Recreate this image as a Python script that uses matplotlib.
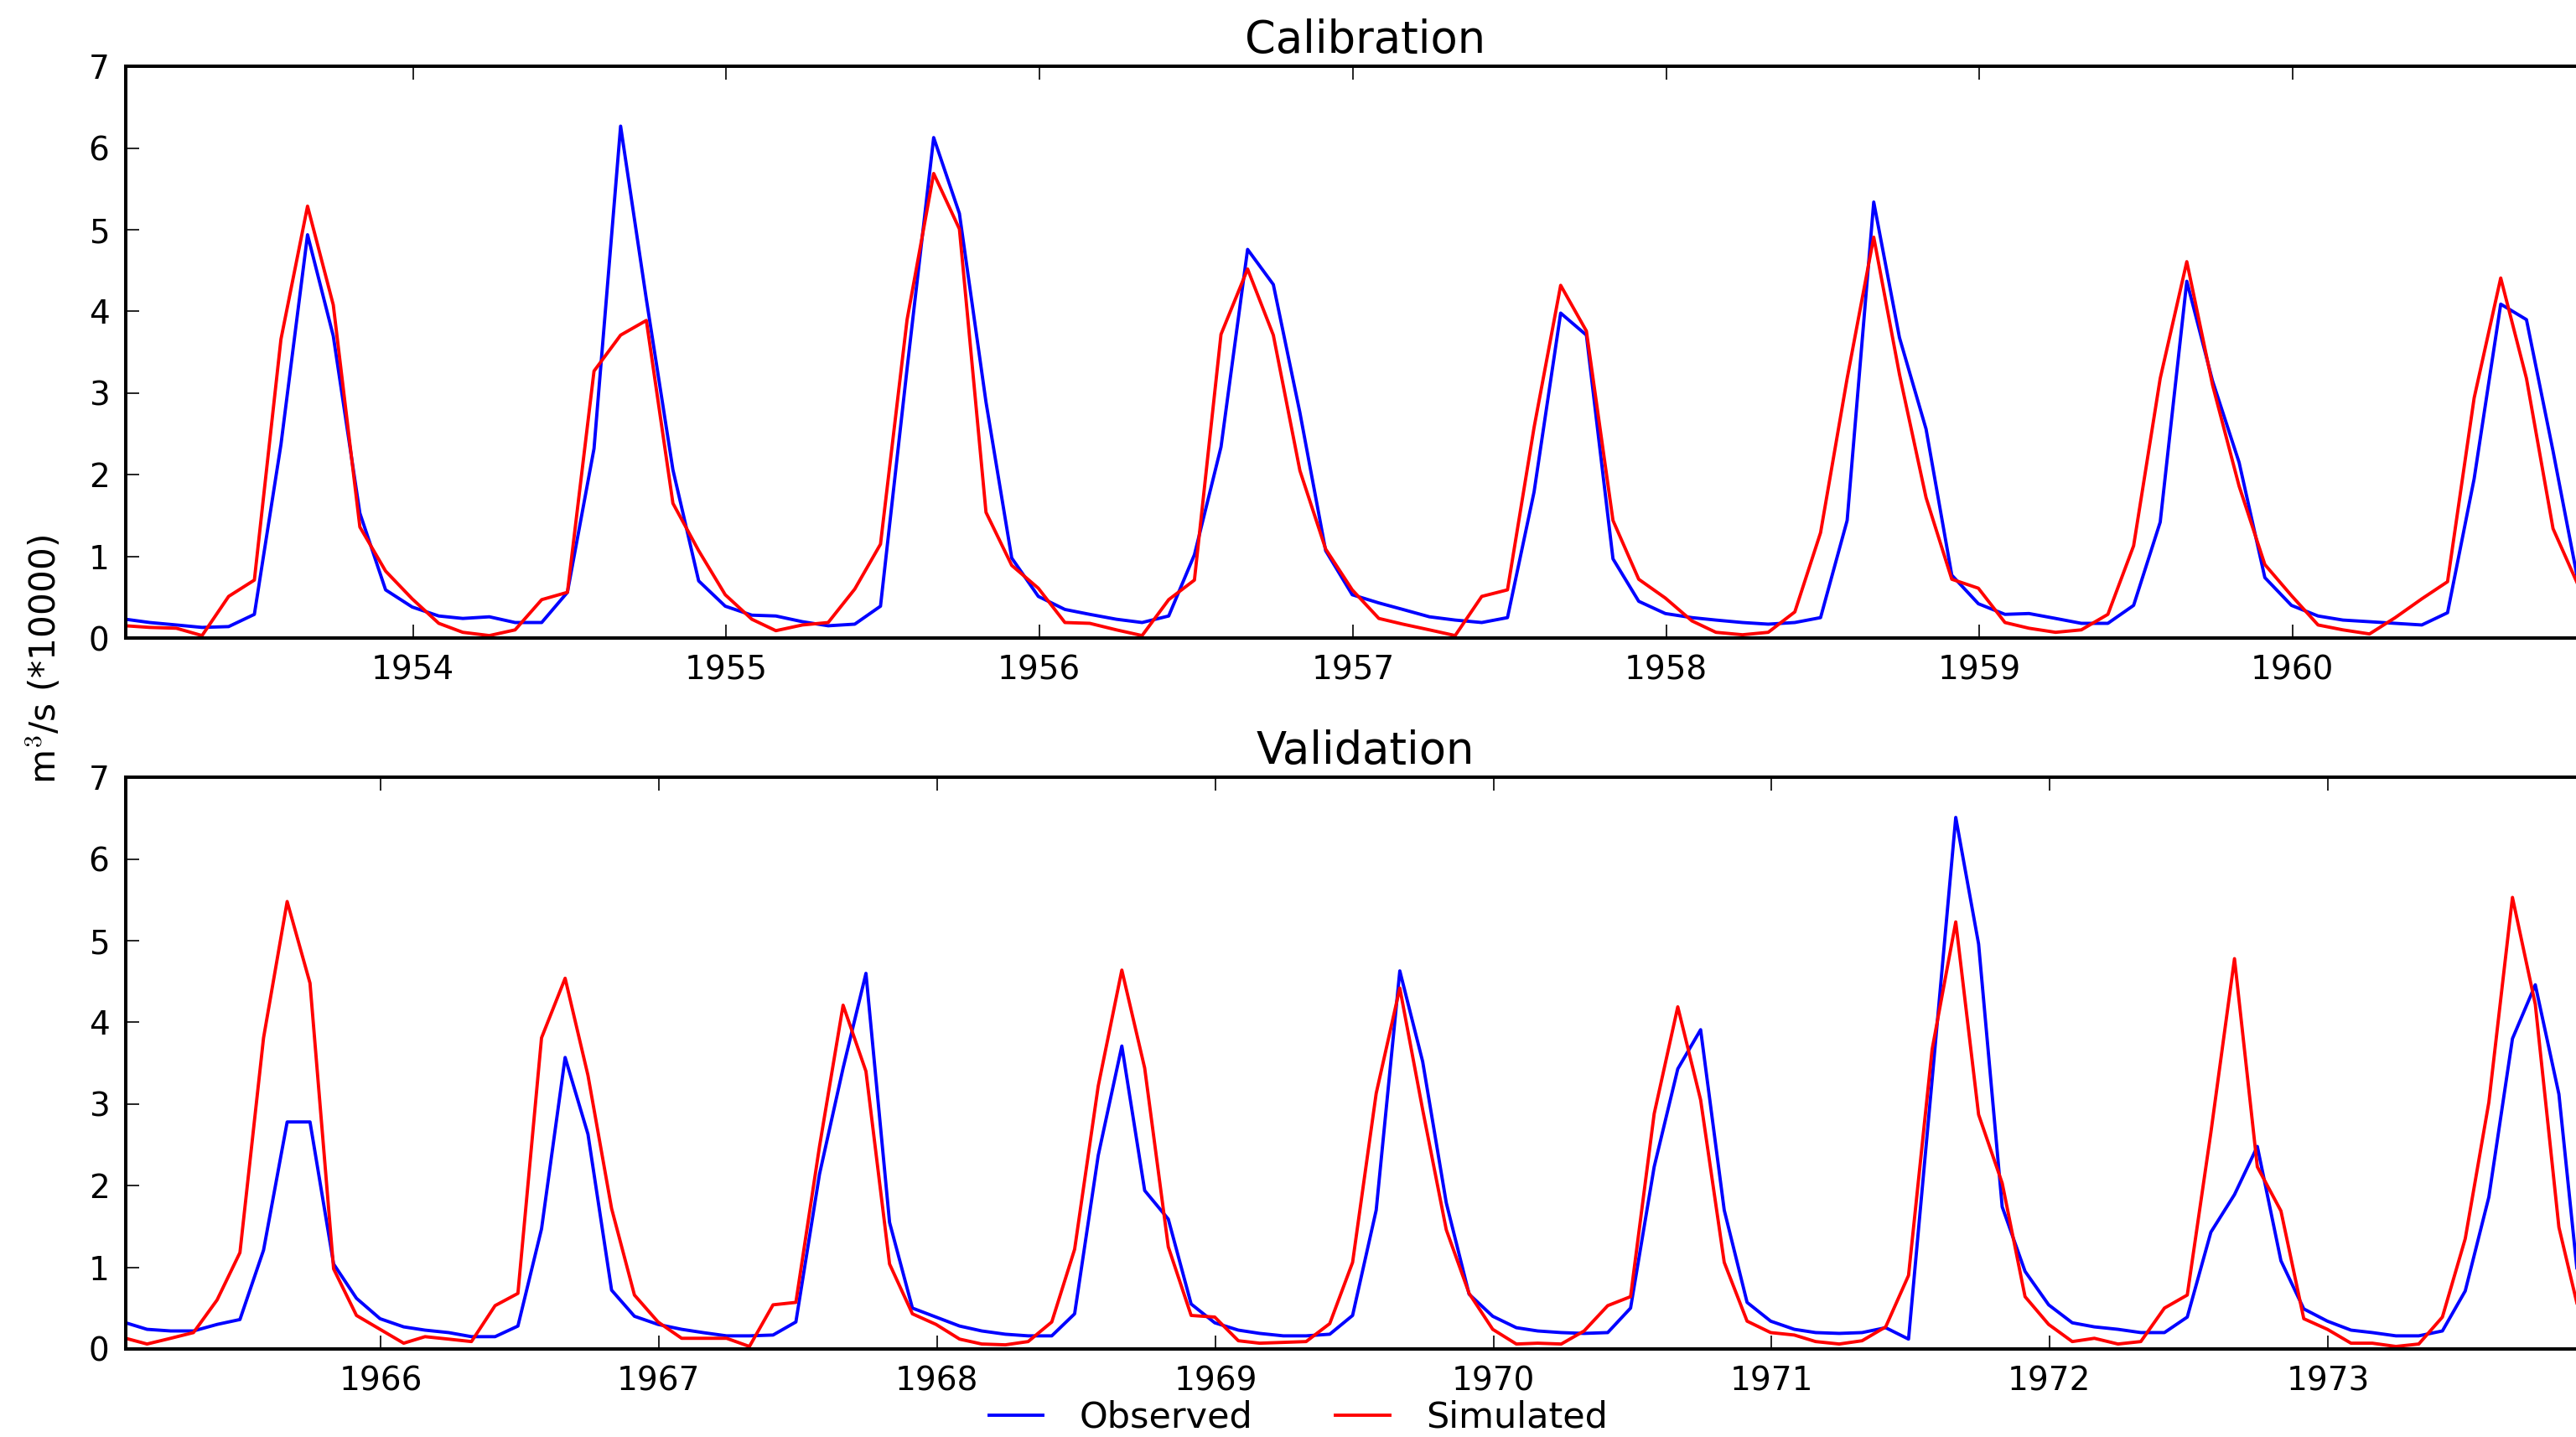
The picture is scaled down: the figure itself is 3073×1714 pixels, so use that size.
import pandas as pd
import matplotlib
matplotlib.use('Agg')
import matplotlib.pyplot as plt
import matplotlib.dates as mdates

# monthly flows, m3/s (*10000)
cal_obs = [0.23, 0.19, 0.16, 0.13, 0.14, 0.29, 2.37, 4.94, 3.70, 1.53, 0.59, 0.38,
           0.27, 0.24, 0.26, 0.19, 0.19, 0.56, 2.32, 6.27, 4.15, 2.06, 0.70, 0.39,
           0.28, 0.27, 0.20, 0.15, 0.17, 0.39, 3.30, 6.13, 5.20, 2.89, 0.98, 0.51,
           0.35, 0.29, 0.23, 0.19, 0.27, 1.02, 2.34, 4.76, 4.33, 2.76, 1.07, 0.53,
           0.43, 0.35, 0.26, 0.22, 0.19, 0.25, 1.79, 3.98, 3.71, 0.97, 0.45, 0.30,
           0.25, 0.22, 0.19, 0.17, 0.19, 0.25, 1.44, 5.34, 3.68, 2.56, 0.77, 0.42,
           0.29, 0.30, 0.24, 0.18, 0.18, 0.40, 1.42, 4.37, 3.15, 2.15, 0.74, 0.40,
           0.27, 0.22, 0.20, 0.18, 0.16, 0.31, 1.95, 4.09, 3.90, 2.29, 0.65, 0.40]
cal_sim = [0.15, 0.13, 0.12, 0.03, 0.51, 0.71, 3.66, 5.29, 4.08, 1.36, 0.82, 0.48,
           0.18, 0.07, 0.03, 0.10, 0.47, 0.56, 3.27, 3.71, 3.89, 1.65, 1.07, 0.53,
           0.23, 0.09, 0.16, 0.19, 0.60, 1.15, 3.90, 5.69, 5.01, 1.54, 0.89, 0.61,
           0.19, 0.18, 0.10, 0.03, 0.47, 0.71, 3.72, 4.52, 3.71, 2.05, 1.09, 0.59,
           0.24, 0.17, 0.10, 0.03, 0.51, 0.59, 2.58, 4.32, 3.76, 1.44, 0.72, 0.49,
           0.21, 0.07, 0.04, 0.07, 0.32, 1.29, 3.18, 4.91, 3.23, 1.72, 0.72, 0.61,
           0.19, 0.12, 0.07, 0.10, 0.29, 1.13, 3.18, 4.61, 3.10, 1.86, 0.90, 0.52,
           0.16, 0.10, 0.05, 0.25, 0.48, 0.69, 2.94, 4.41, 3.18, 1.34, 0.63, 0.35]

val_obs = [0.32, 0.24, 0.22, 0.22, 0.30, 0.36, 1.21, 2.78, 2.78, 1.04, 0.62, 0.37,
           0.27, 0.23, 0.20, 0.15, 0.15, 0.28, 1.47, 3.57, 2.63, 0.72, 0.40, 0.30,
           0.24, 0.20, 0.16, 0.16, 0.17, 0.33, 2.14, 3.44, 4.60, 1.55, 0.50, 0.39,
           0.28, 0.22, 0.18, 0.16, 0.16, 0.43, 2.37, 3.71, 1.94, 1.59, 0.55, 0.32,
           0.23, 0.19, 0.16, 0.16, 0.18, 0.41, 1.70, 4.63, 3.52, 1.79, 0.67, 0.40,
           0.26, 0.22, 0.20, 0.19, 0.20, 0.50, 2.23, 3.43, 3.91, 1.70, 0.57, 0.34,
           0.24, 0.20, 0.19, 0.20, 0.26, 0.12, 3.30, 6.51, 4.96, 1.74, 0.95, 0.54,
           0.32, 0.27, 0.24, 0.20, 0.20, 0.39, 1.43, 1.89, 2.48, 1.08, 0.49, 0.34,
           0.23, 0.20, 0.16, 0.16, 0.22, 0.71, 1.86, 3.80, 4.46, 3.12, 0.41, 0.30]
val_sim = [0.13, 0.06, 0.13, 0.20, 0.60, 1.18, 3.81, 5.48, 4.48, 0.98, 0.41, 0.24,
           0.07, 0.15, 0.12, 0.09, 0.53, 0.68, 3.81, 4.54, 3.35, 1.72, 0.66, 0.33,
           0.13, 0.13, 0.13, 0.03, 0.54, 0.57, 2.48, 4.21, 3.40, 1.04, 0.43, 0.30,
           0.12, 0.06, 0.05, 0.09, 0.33, 1.22, 3.22, 4.64, 3.44, 1.25, 0.41, 0.39,
           0.10, 0.07, 0.08, 0.09, 0.31, 1.06, 3.13, 4.42, 2.93, 1.46, 0.68, 0.24,
           0.06, 0.07, 0.06, 0.22, 0.53, 0.64, 2.88, 4.19, 3.05, 1.06, 0.34, 0.20,
           0.17, 0.09, 0.06, 0.10, 0.27, 0.90, 3.67, 5.23, 2.87, 2.03, 0.64, 0.30,
           0.09, 0.13, 0.06, 0.09, 0.50, 0.66, 2.65, 4.78, 2.23, 1.69, 0.37, 0.24,
           0.07, 0.07, 0.03, 0.06, 0.39, 1.35, 3.02, 5.53, 4.22, 1.49, 0.31, 0.20]

# month-end dates
cal_dates = pd.date_range('1953-02-01', periods=len(cal_obs), freq='MS') - pd.Timedelta(days=1)
val_dates = pd.date_range('1965-02-01', periods=len(val_obs), freq='MS') - pd.Timedelta(days=1)

plt.rcParams['mathtext.fontset'] = 'cm'

fig = plt.figure(figsize=(15.365, 8.57), dpi=200)
ax1 = fig.add_axes([0.0488, 0.556, 0.9626, 0.3977])
ax2 = fig.add_axes([0.0488, 0.0613, 0.9626, 0.3977])

panels = [(ax1, cal_dates, cal_obs, cal_sim, 'Calibration'),
          (ax2, val_dates, val_obs, val_sim, 'Validation')]

for ax, dates, obs, sim, title in panels:
    ax.plot(dates, obs, color='b', lw=1.4, label='Observed')
    ax.plot(dates, sim, color='r', lw=1.4, label='Simulated')
    ax.set_xlim(dates[0], dates[-1])
    ax.set_ylim(0, 7)
    ax.set_title(title, fontsize=19, pad=6)
    ax.xaxis.set_major_locator(mdates.YearLocator())
    ax.xaxis.set_major_formatter(mdates.DateFormatter('%Y'))
    ax.tick_params(direction='in', top=True, right=True, length=5.8,
                   width=0.6, labelsize=14, pad=7)
    for s in ax.spines.values():
        s.set_linewidth(1.45)

fig.text(0.0172, 0.541, 'm$^3$/s (*10000)', rotation=90,
         ha='center', va='center', fontsize=15.2)

handles, labels = ax1.get_legend_handles_labels()
fig.legend(handles, labels, loc='center', bbox_to_anchor=(0.504, 0.0135),
           ncol=2, frameon=False, fontsize=15.5, handlelength=1.5,
           handletextpad=1.0, columnspacing=2.3, borderpad=0)

fig.savefig('out.png', dpi=200)
